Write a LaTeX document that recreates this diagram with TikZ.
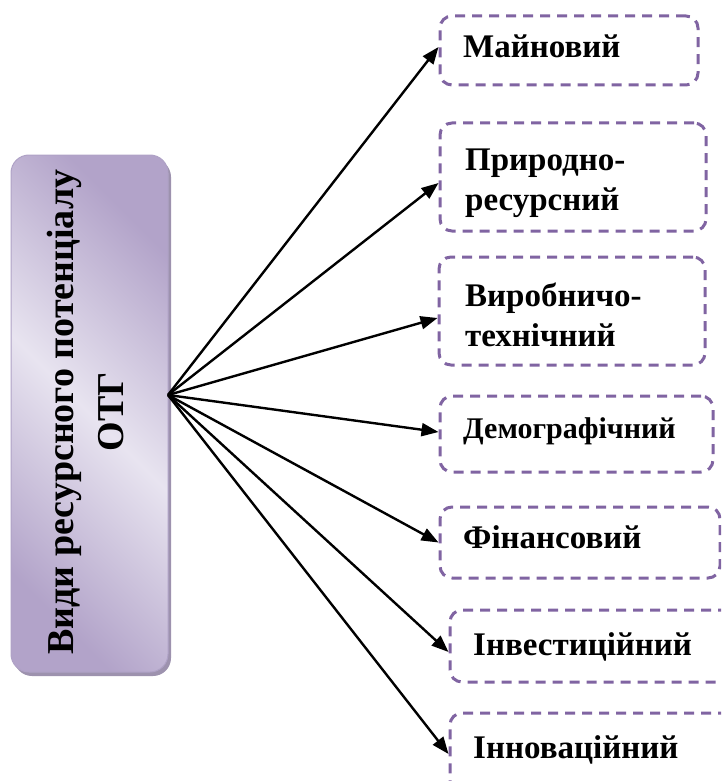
\documentclass[tikz,border=0pt]{standalone}
\usepackage{fontspec}
\setmainfont{Liberation Serif}
\usetikzlibrary{arrows.meta,shadows}
\definecolor{dashpurple}{HTML}{8064A2}
\definecolor{lavdark}{HTML}{B2A3C9}
\definecolor{lavlight}{HTML}{E8E4F0}
\definecolor{lavedge}{HTML}{AFA2C6}
\definecolor{lavshadow}{HTML}{9D92AE}
\begin{document}
\begin{tikzpicture}[x=1pt,y=-1pt,
  dbox/.style={draw=dashpurple, line width=3pt, dash pattern=on 10pt off 7pt, rounded corners=12pt, inner sep=0pt},
  lbl/.style={font=\bfseries\fontsize{33}{40}\selectfont, inner sep=0pt, align=left},
  arr/.style={line width=2.4pt, -{Triangle[length=17pt,width=13pt]}}]
\useasboundingbox (0,0) rectangle (721,781);
\clip (0,0) rectangle (721,781);
% main box
\node[draw=lavedge, line width=1pt, rounded corners=18pt, minimum width=157pt, minimum height=517pt,
  top color=lavdark, bottom color=lavdark, middle color=lavlight, shading angle=-45,
  drop shadow={shadow xshift=3pt, shadow yshift=-4pt, fill=lavshadow, opacity=1}] (main) at (89.5,413.5) {};
\node[rotate=90, font=\bfseries\fontsize{38}{50}\selectfont, align=center, inner sep=0pt] (maintext) at (86,412) {Види ресурсного потенціалу\\ОТГ};
\coordinate (hub) at (168,395);
% boxes
\node[dbox, minimum width=258pt, minimum height=69pt] (b1) at (569,50.5) {};
\node[dbox, minimum width=266pt, minimum height=108pt] (b2) at (573,177) {};
\node[dbox, minimum width=266pt, minimum height=108pt] (b3) at (572,311) {};
\node[dbox, minimum width=273pt, minimum height=76pt] (b4) at (576.5,434) {};
\node[dbox, minimum width=280pt, minimum height=71pt] (b5) at (580,542.5) {};
\node[dbox, minimum width=290pt, minimum height=72pt] (b6) at (595,646) {};
\node[dbox, minimum width=290pt, minimum height=82pt] (b7) at (595,754) {};
% labels
\node[lbl, anchor=base west] (t1) at (463,58) {Майновий};
\node[lbl, anchor=west] (t2) at (465,183) {Природно-\\ресурсний};
\node[lbl, anchor=west] (t3) at (465,315) {Виробничо-\\технічний};
\node[lbl, anchor=base west, font=\bfseries\fontsize{30}{36}\selectfont] (t4) at (463,438) {Демографічний};
\node[lbl, anchor=base west] (t5) at (463,548) {Фінансовий};
\node[lbl, anchor=base west] (t6) at (473,655) {Інвестиційний};
\node[lbl, anchor=base west] (t7) at (473,758) {Інноваційний};
% arrows
\draw[arr] (hub) -- ([yshift=3.5pt]b1.west);
\draw[arr] (hub) -- ([yshift=-6pt]b2.west);
\draw[arr] (hub) -- ([yshift=-7pt]b3.west);
\draw[arr] (hub) -- ([yshift=2pt]b4.west);
\draw[arr] (hub) -- (b5.west);
\draw[arr] (hub) -- ([yshift=-6pt]b6.west);
\draw[arr] (hub) -- (b7.west);
\end{tikzpicture}
\end{document}
